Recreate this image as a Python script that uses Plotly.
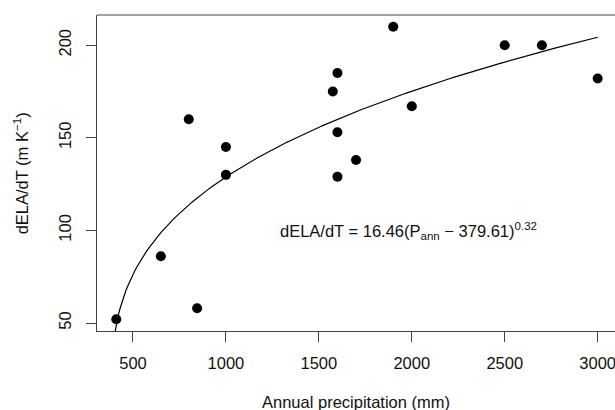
import plotly.graph_objects as go

# Data
precip_mm = [410, 650, 800, 845, 1000, 1000, 1575, 1600, 1600, 1600, 1700, 1900, 2000, 2500, 2700, 3000]
dela_dt = [52, 86, 160, 58, 145, 130, 175, 185, 153, 129, 138, 210, 167, 200, 200, 182]

# Fitted power law shown on the chart
fit_a = 16.46
fit_c = 379.61
fit_b = 0.32
fit_x = [400 + 10 * i for i in range(261)]
fit_y = [fit_a * (x - fit_c) ** fit_b for x in fit_x]

x_ticks = [500, 1000, 1500, 2000, 2500, 3000]
y_ticks = [50, 100, 150, 200]

FONT = "Liberation Sans, Arial, Helvetica, sans-serif"
AX = "#444444"
FS = 16.5

fig = go.Figure()
fig.add_trace(go.Scatter(x=fit_x, y=fit_y, mode="lines",
                         line=dict(color="black", width=1.2),
                         hoverinfo="skip", showlegend=False))
fig.add_trace(go.Scatter(x=precip_mm, y=dela_dt, mode="markers",
                         marker=dict(color="black", size=10, line=dict(width=0)),
                         showlegend=False, cliponaxis=False))

fig.update_layout(
    width=615, height=410,
    margin=dict(l=97, r=0, t=15, b=79),
    paper_bgcolor="white", plot_bgcolor="white",
    font=dict(family=FONT, size=FS, color="black"),
    xaxis=dict(range=[306.4, 3093.2], tickvals=x_ticks,
               ticktext=[str(v) for v in x_ticks],
               showgrid=False, zeroline=False, showline=True,
               linecolor=AX, linewidth=1, ticks="outside", ticklen=10,
               tickcolor=AX, tickwidth=1, ticklabelstandoff=7,
               ticklabeloverflow="allow",
               tickfont=dict(size=FS, color="#111")),
    yaxis=dict(range=[45.68, 216.32], tickvals=y_ticks,
               ticktext=[str(v) for v in y_ticks],
               showgrid=False, zeroline=False, showline=True,
               linecolor=AX, linewidth=1, ticks="outside", ticklen=10,
               tickcolor=AX, tickwidth=1, tickangle=-90, ticklabelstandoff=8,
               tickfont=dict(size=FS, color="#111")),
    shapes=[dict(type="line", xref="paper", yref="paper", x0=0, x1=1, y0=1, y1=1,
                 line=dict(color=AX, width=1))],
    annotations=[
        dict(text="Annual precipitation (mm)", xref="paper", yref="paper",
             x=0.5, y=-0.2247, xanchor="center", yanchor="middle",
             showarrow=False, font=dict(size=FS, color="#111")),
        dict(text="dELA/dT (m K<sup>\u22121</sup>)", xref="paper", yref="paper",
             x=-0.146, y=0.5, xanchor="center", yanchor="middle", textangle=-90,
             showarrow=False, font=dict(size=FS, color="#111")),
        dict(text="dELA/dT = 16.46(P<sub>ann</sub> \u2212 379.61)<sup>0.32</sup>",
             xref="x", yref="y", x=1281, y=99.5, xanchor="left", yanchor="middle",
             showarrow=False, font=dict(size=FS, color="#111")),
    ],
)

fig.write_html("out.html", config={"displayModeBar": False},
               post_script="document.body.style.margin='0px';document.body.style.padding='0px';")
